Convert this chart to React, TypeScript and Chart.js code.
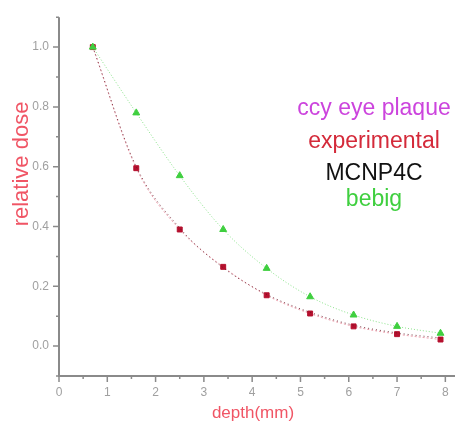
import React, { useEffect, useRef } from "react";
import { Chart, registerables } from "chart.js";

Chart.register(...registerables);

const depth = [0.7, 1.6, 2.5, 3.4, 4.3, 5.2, 6.1, 7.0, 7.9];
const experimental = [1.0, 0.595, 0.39, 0.265, 0.17, 0.109, 0.066, 0.04, 0.022];
const mcnp4c = [1.0, 0.6, 0.395, 0.262, 0.173, 0.113, 0.07, 0.044, 0.027];
const bebig = [1.0, 0.78, 0.57, 0.39, 0.26, 0.165, 0.104, 0.066, 0.043];

const xTicks = [0, 1, 2, 3, 4, 5, 6, 7, 8];
const yTicks = [0.0, 0.2, 0.4, 0.6, 0.8, 1.0];
const xMinor = [0.5, 1.5, 2.5, 3.5, 4.5, 5.5, 6.5, 7.5];
const yMinor = [-0.1, 0.1, 0.3, 0.5, 0.7, 0.9, 1.1];

const legendLines = [
  { text: "ccy eye plaque", color: "#cc44dd", y: 115 },
  { text: "experimental", color: "#d42a3a", y: 148 },
  { text: "MCNP4C", color: "#111111", y: 180 },
  { text: "bebig", color: "#3fcf3f", y: 206 },
];

const toPts = (ys: number[]) => depth.map((x, i) => ({ x, y: ys[i] }));

const axisPlugin = {
  id: "axisPlugin",
  afterDraw(chart: any) {
    const { ctx, chartArea, scales } = chart;
    const xs = scales.x;
    const ys = scales.y;
    ctx.save();
    ctx.strokeStyle = "#8a8a8a";
    ctx.lineWidth = 2;
    ctx.beginPath();
    ctx.moveTo(chartArea.left, chartArea.top);
    ctx.lineTo(chartArea.left, chartArea.bottom);
    ctx.lineTo(chartArea.right, chartArea.bottom);
    ctx.stroke();
    ctx.lineWidth = 1.5;
    ctx.beginPath();
    xTicks.forEach((v) => {
      const px = xs.getPixelForValue(v);
      ctx.moveTo(px, chartArea.bottom);
      ctx.lineTo(px, chartArea.bottom + 6);
    });
    xMinor.forEach((v) => {
      const px = xs.getPixelForValue(v);
      ctx.moveTo(px, chartArea.bottom);
      ctx.lineTo(px, chartArea.bottom + 3);
    });
    yTicks.forEach((v) => {
      const py = ys.getPixelForValue(v);
      ctx.moveTo(chartArea.left, py);
      ctx.lineTo(chartArea.left - 6, py);
    });
    yMinor.forEach((v) => {
      const py = ys.getPixelForValue(v);
      ctx.moveTo(chartArea.left, py);
      ctx.lineTo(chartArea.left - 3, py);
    });
    ctx.stroke();

    // legend texts
    ctx.font = "23px 'Liberation Sans', Arial, sans-serif";
    ctx.textAlign = "center";
    ctx.textBaseline = "alphabetic";
    legendLines.forEach((l) => {
      ctx.fillStyle = l.color;
      ctx.fillText(l.text, 374, l.y);
    });

    // axis titles
    ctx.fillStyle = "#f05565";
    ctx.font = "17px 'Liberation Sans', Arial, sans-serif";
    ctx.fillText("depth(mm)", 253, 418);
    ctx.translate(28, 164);
    ctx.rotate(-Math.PI / 2);
    ctx.font = "22px 'Liberation Sans', Arial, sans-serif";
    ctx.fillText("relative dose", 0, 0);
    ctx.restore();
  },
};

export default function App() {
  const ref = useRef<HTMLCanvasElement>(null);
  useEffect(() => {
    const chart = new Chart(ref.current!, {
      type: "scatter",
      data: {
        datasets: [
          {
            label: "bebig",
            data: toPts(bebig),
            showLine: true,
            borderColor: "rgba(110,220,110,0.8)",
            borderWidth: 1,
            borderDash: [1, 2],
            cubicInterpolationMode: "monotone",
            pointStyle: "triangle",
            pointRadius: 4,
            backgroundColor: "#3fcf3f",
            pointBorderColor: "#3fcf3f",
          },
          {
            label: "MCNP4C",
            data: toPts(mcnp4c),
            showLine: true,
            borderColor: "rgba(90,20,30,0.8)",
            borderWidth: 1,
            borderDash: [1, 3],
            cubicInterpolationMode: "monotone",
            pointRadius: 0,
          },
          {
            label: "experimental",
            data: toPts(experimental),
            showLine: true,
            borderColor: "rgba(230,120,140,0.7)",
            borderWidth: 1,
            borderDash: [2, 2],
            cubicInterpolationMode: "monotone",
            pointStyle: "rect",
            pointRadius: 3.5,
            backgroundColor: "#b5102e",
            pointBorderColor: "#b5102e",
          },
        ],
      },
      options: {
        animation: false,
        responsive: false,
        layout: { padding: { top: 14, right: 9, left: 0, bottom: 0 } },
        plugins: { legend: { display: false }, tooltip: { enabled: false } },
        scales: {
          x: {
            type: "linear",
            min: 0,
            max: 8.2,
            grid: { display: false, drawTicks: false },
            border: { display: false },
            afterBuildTicks: (s: any) => {
              s.ticks = xTicks.map((v) => ({ value: v }));
            },
            afterFit: (s: any) => {
              s.height = 47;
            },
            ticks: {
              padding: 9,
              color: "#a0a0a0",
              font: { size: 12, family: "'Liberation Sans', Arial, sans-serif" },
              callback: (v: any) => String(v),
            },
          },
          y: {
            type: "linear",
            min: -0.1,
            max: 1.1,
            grid: { display: false, drawTicks: false },
            border: { display: false },
            afterBuildTicks: (s: any) => {
              s.ticks = yTicks.map((v) => ({ value: v }));
            },
            afterFit: (s: any) => {
              s.width = 59;
            },
            ticks: {
              padding: 10,
              color: "#a0a0a0",
              font: { size: 12, family: "'Liberation Sans', Arial, sans-serif" },
              callback: (v: any) => Number(v).toFixed(1),
            },
          },
        },
      },
      plugins: [axisPlugin],
    });
    return () => chart.destroy();
  }, []);
  return (
    <div style={{ position: "fixed", left: 0, top: 0, width: 464, height: 423, background: "#fff" }}>
      <canvas ref={ref} width={464} height={423} />
    </div>
  );
}
